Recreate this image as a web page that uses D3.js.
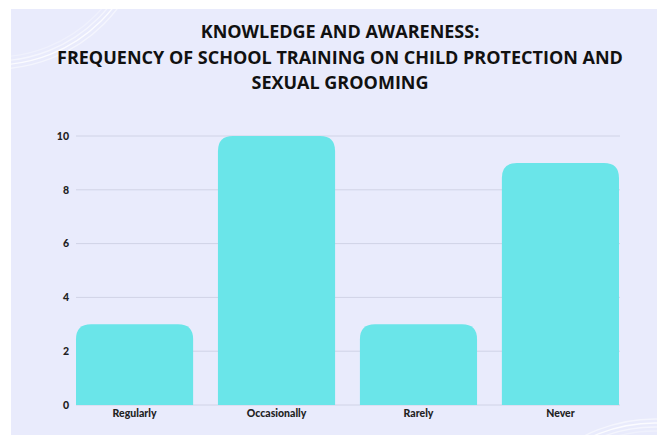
<!DOCTYPE html>
<html>
<head>
<meta charset="utf-8">
<script src="https://cdn.jsdelivr.net/npm/d3@7"></script>
<style>
  body { margin: 0; background: #fff; }
  svg { display: block; }
</style>
</head>
<body>
<div id="canvas"></div>
<script>
// data
const categories = ["Regularly", "Occasionally", "Rarely", "Never"];
const counts = [3, 10, 3, 9];
const yTicks = [0, 2, 4, 6, 8, 10];
const titleLines = [
  "KNOWLEDGE AND AWARENESS:",
  "FREQUENCY OF SCHOOL TRAINING ON CHILD PROTECTION AND",
  "SEXUAL GROOMING"
];

const dims = { width: 657, height: 435 };
const margin = { top: 136, right: 38, bottom: 30, left: 76 };
const plotW = dims.width - margin.left - margin.right;
const plotH = dims.height - margin.top - margin.bottom;

const svg = d3
  .select("#canvas")
  .append("svg")
  .attr("width", dims.width)
  .attr("height", dims.height);

// background panel
svg.append("clipPath").attr("id", "panel")
  .append("rect")
  .attr("x", 11).attr("y", 9)
  .attr("width", dims.width - 11).attr("height", dims.height - 9);

svg.append("rect")
  .attr("x", 11)
  .attr("y", 9)
  .attr("width", dims.width - 11)
  .attr("height", dims.height - 9)
  .attr("fill", "#e9ebfc");

// decorative arcs (corners)
const deco = svg.append("g")
  .attr("clip-path", "url(#panel)")
  .attr("fill", "none")
  .attr("stroke", "#fff");
const rings = [[0, 0.8], [-4, 0.5], [4, 0.5], [-8, 0.3]];
rings.forEach(([dr, o]) => {
  deco.append("circle").attr("cx", -5).attr("cy", -85).attr("r", 150 + dr)
    .attr("stroke-width", 1.4).attr("stroke-opacity", o);
  deco.append("circle").attr("cx", 655).attr("cy", 575).attr("r", 152 + dr)
    .attr("stroke-width", 1.4).attr("stroke-opacity", o);
});

// title
const title = svg.append("text")
  .attr("text-anchor", "middle")
  .attr("font-family", "'Open Sans', sans-serif")
  .attr("font-weight", 700)
  .attr("font-size", 18)
  .attr("fill", "#111");
titleLines.forEach((t, i) => {
  title.append("tspan")
    .attr("x", 340)
    .attr("y", 38 + i * 25.5)
    .text(t);
});

const graph = svg.append("g")
  .attr("transform", `translate(${margin.left}, ${margin.top})`);

const xScale = d3.scaleBand()
  .domain(categories)
  .range([0, plotW])
  .paddingInner(0.175)
  .paddingOuter(0);

const yScale = d3.scaleLinear()
  .domain([0, 10])
  .range([plotH, 0]);

// grid
graph.append("g")
  .selectAll("line")
  .data(yTicks)
  .join("line")
  .attr("x1", 0)
  .attr("x2", plotW + 1)
  .attr("y1", d => yScale(d))
  .attr("y2", d => yScale(d))
  .attr("stroke", "#d0d3e6")
  .attr("stroke-width", 1);

// bars with rounded tops
const r = 15;
const barPath = d => {
  const x0 = xScale(d.cat), x1 = x0 + xScale.bandwidth();
  const y0 = yScale(d.val), yb = yScale(0);
  const rr = Math.min(r, (yb - y0));
  return `M${x0},${yb}V${y0 + rr}Q${x0},${y0} ${x0 + rr},${y0}H${x1 - rr}Q${x1},${y0} ${x1},${y0 + rr}V${yb}Z`;
};
graph.append("g")
  .selectAll("path")
  .data(categories.map((c, i) => ({ cat: c, val: counts[i] })))
  .join("path")
  .attr("d", barPath)
  .attr("fill", "#6ae5e9");

// axes
const yAxis = d3.axisLeft(yScale).tickValues(yTicks).tickSize(0).tickPadding(7);
const xAxis = d3.axisBottom(xScale).tickSize(0).tickPadding(5);

const yAxisGroup = graph.append("g").call(yAxis);
const xAxisGroup = graph.append("g").attr("transform", `translate(0,${plotH})`).call(xAxis);

[yAxisGroup, xAxisGroup].forEach(g => {
  g.select(".domain").remove();
  g.selectAll("text")
    .attr("font-family", "Lato, sans-serif")
    .attr("font-weight", 900)
    .attr("font-size", 10.5)
    .attr("fill", "#222");
});
</script>
</body>
</html>
